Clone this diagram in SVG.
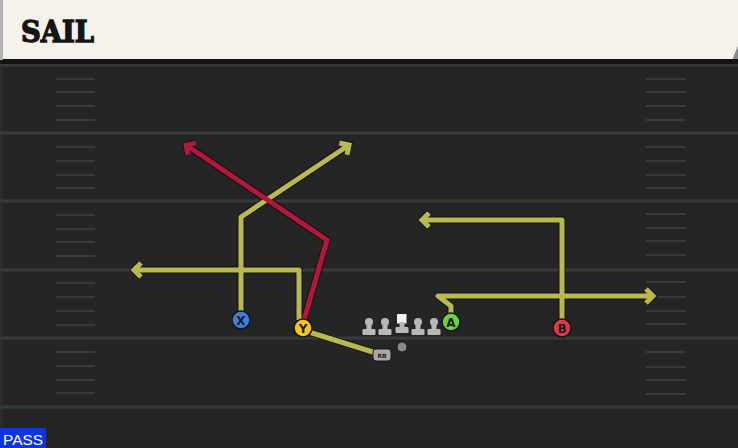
<svg xmlns="http://www.w3.org/2000/svg" width="738" height="448" viewBox="0 0 738 448">
<style>
.yard{stroke:#3a3a3a;stroke-width:3}
.hash{stroke:#3a3a3a;stroke-width:2}
.ol{fill:none;stroke:#121212;stroke-width:7;stroke-linejoin:round}
.ry{fill:none;stroke:#b9b94d;stroke-width:5;stroke-linejoin:round}
.rr{fill:none;stroke:#b3173a;stroke-width:5;stroke-linejoin:round}
.pc{stroke:#151515;stroke-width:1.5}
.pl{font-family:"DejaVu Sans",sans-serif;font-weight:bold;font-size:12px;fill:#1a1a1a;text-anchor:middle}
.lm{fill:#b8b8b8}
</style>
<defs>
<marker id="ay" markerUnits="userSpaceOnUse" orient="auto" markerWidth="30" markerHeight="30" viewBox="-15 -15 30 30" refX="0" refY="0">
<path d="M-7,-7 L0,0 L-7,7" fill="none" stroke="#121212" stroke-width="7"/>
<path d="M-8,0 L0,0" stroke="#b9b94d" stroke-width="5"/>
<path d="M-7,-7 L0,0 L-7,7" fill="none" stroke="#b9b94d" stroke-width="5"/>
</marker>
<marker id="ar" markerUnits="userSpaceOnUse" orient="auto" markerWidth="30" markerHeight="30" viewBox="-15 -15 30 30" refX="0" refY="0">
<path d="M-7,-7 L0,0 L-7,7" fill="none" stroke="#121212" stroke-width="7"/>
<path d="M-8,0 L0,0" stroke="#b3173a" stroke-width="5"/>
<path d="M-7,-7 L0,0 L-7,7" fill="none" stroke="#b3173a" stroke-width="5"/>
</marker>
</defs>
<rect x="0" y="0" width="738" height="448" fill="#252525"/>
<rect x="0" y="60" width="3" height="388" fill="#2c2c2c"/>
<g id="field">
<line class="yard" x1="0" y1="65" x2="738" y2="65"/>
<line class="yard" x1="0" y1="133" x2="738" y2="133"/>
<line class="yard" x1="0" y1="201" x2="738" y2="201"/>
<line class="yard" x1="0" y1="270" x2="738" y2="270"/>
<line class="yard" x1="0" y1="338" x2="738" y2="338"/>
<line class="yard" x1="0" y1="407" x2="738" y2="407"/>
<g id="hashL">
<line class="hash" x1="56" y1="79" x2="95" y2="79"/><line class="hash" x1="56" y1="92" x2="95" y2="92"/><line class="hash" x1="56" y1="106" x2="95" y2="106"/><line class="hash" x1="56" y1="120" x2="95" y2="120"/>
<line class="hash" x1="56" y1="147" x2="95" y2="147"/><line class="hash" x1="56" y1="161" x2="95" y2="161"/><line class="hash" x1="56" y1="175" x2="95" y2="175"/><line class="hash" x1="56" y1="188" x2="95" y2="188"/>
<line class="hash" x1="56" y1="215" x2="95" y2="215"/><line class="hash" x1="56" y1="229" x2="95" y2="229"/><line class="hash" x1="56" y1="242" x2="95" y2="242"/><line class="hash" x1="56" y1="256" x2="95" y2="256"/>
<line class="hash" x1="56" y1="283" x2="95" y2="283"/><line class="hash" x1="56" y1="297" x2="95" y2="297"/><line class="hash" x1="56" y1="311" x2="95" y2="311"/><line class="hash" x1="56" y1="325" x2="95" y2="325"/>
<line class="hash" x1="56" y1="352" x2="95" y2="352"/><line class="hash" x1="56" y1="366" x2="95" y2="366"/><line class="hash" x1="56" y1="380" x2="95" y2="380"/><line class="hash" x1="56" y1="393" x2="95" y2="393"/>
</g>
<g id="hashR">
<line class="hash" x1="646" y1="79" x2="686" y2="79"/><line class="hash" x1="646" y1="92" x2="686" y2="92"/><line class="hash" x1="646" y1="106" x2="686" y2="106"/><line class="hash" x1="646" y1="120" x2="686" y2="120"/>
<line class="hash" x1="646" y1="147" x2="686" y2="147"/><line class="hash" x1="646" y1="161" x2="686" y2="161"/><line class="hash" x1="646" y1="175" x2="686" y2="175"/><line class="hash" x1="646" y1="188" x2="686" y2="188"/>
<line class="hash" x1="646" y1="214" x2="686" y2="214"/><line class="hash" x1="646" y1="228" x2="686" y2="228"/><line class="hash" x1="646" y1="241" x2="686" y2="241"/><line class="hash" x1="646" y1="255" x2="686" y2="255"/>
<line class="hash" x1="646" y1="282" x2="686" y2="282"/><line class="hash" x1="646" y1="297" x2="686" y2="297"/><line class="hash" x1="646" y1="311" x2="686" y2="311"/><line class="hash" x1="646" y1="324" x2="686" y2="324"/>
<line class="hash" x1="646" y1="352" x2="686" y2="352"/><line class="hash" x1="646" y1="367" x2="686" y2="367"/><line class="hash" x1="646" y1="380" x2="686" y2="380"/><line class="hash" x1="646" y1="394" x2="686" y2="394"/>
</g>
</g>
<g id="header">
<rect x="0" y="58" width="738" height="6" fill="#141414"/>
<polygon points="3,0 738,0 738,46 733,59 3,59" fill="#f5f2eb"/>
<polygon points="738,46 738,59 733,59" fill="#8a8a8a"/>
<rect x="0" y="0" width="3" height="60" fill="#b3b3b3"/>
<text x="21" y="42" font-family="'DejaVu Serif','Liberation Serif',serif" font-weight="bold" font-size="29" fill="#151515" stroke="#151515" stroke-width="1.4" textLength="73" lengthAdjust="spacingAndGlyphs">SAIL</text>
</g>
<g id="connectors">
<path class="ol" d="M241,312 L241,217 L349,145"/>
<path class="ol" d="M299,320 L299,270 L134,270"/>
<path class="ol" d="M304,320 L327,240 L186,145"/>
<path class="ol" d="M309,332 L376,353"/>
<path class="ol" d="M451,314 L451,306 L438,296 L653,296"/>
<path class="ol" d="M562,320 L562,220 L422,220"/>
<path class="ry" d="M241,312 L241,217 L349,145" marker-end="url(#ay)"/>
<path class="ry" d="M299,320 L299,270 L134,270" marker-end="url(#ay)"/>
<path class="rr" d="M304,320 L327,240 L186,145" marker-end="url(#ar)"/>
<path class="ry" d="M309,332 L376,353"/>
<path class="ry" d="M451,314 L451,306 L438,296 L653,296" marker-end="url(#ay)"/>
<path class="ry" d="M562,320 L562,220 L422,220" marker-end="url(#ay)"/>
</g>
<g id="line">
<g id="lt"><circle class="lm" cx="369" cy="322" r="4"/><rect class="lm" x="366.5" y="323" width="5" height="8"/><rect class="lm" x="362.5" y="329" width="13" height="6" rx="1"/></g>
<g id="lg"><circle class="lm" cx="385" cy="322" r="4"/><rect class="lm" x="382.5" y="323" width="5" height="8"/><rect class="lm" x="378.5" y="329" width="13" height="6" rx="1"/></g>
<g id="c"><rect x="397" y="314" width="9.5" height="9.5" fill="#f2f2f2"/><rect class="lm" x="399.5" y="322" width="5" height="6"/><rect class="lm" x="395.5" y="327" width="13" height="6" rx="1"/></g>
<g id="rg"><circle class="lm" cx="418" cy="322" r="4"/><rect class="lm" x="415.5" y="323" width="5" height="8"/><rect class="lm" x="411.5" y="329" width="13" height="6" rx="1"/></g>
<g id="rt"><circle class="lm" cx="434" cy="322" r="4"/><rect class="lm" x="431.5" y="323" width="5" height="8"/><rect class="lm" x="427.5" y="329" width="13" height="6" rx="1"/></g>
</g>
<g id="qb"><circle cx="402" cy="347" r="5" fill="#8a8a8a" stroke="#1a1a1a" stroke-width="1"/></g>
<g id="rb"><rect x="373" y="349" width="18" height="12" rx="3" fill="#a8a8a8" stroke="#1a1a1a" stroke-width="1"/><text x="382" y="358" font-family="'DejaVu Sans',sans-serif" font-size="6" font-weight="bold" fill="#222" text-anchor="middle">RB</text></g>
<g id="X"><circle class="pc" cx="241" cy="320" r="9" fill="#3d7fe0"/><text class="pl" x="241" y="324.5">X</text></g>
<g id="Y"><circle class="pc" cx="303" cy="328" r="9" fill="#f4c51c"/><text class="pl" x="303" y="332.5">Y</text></g>
<g id="A"><circle class="pc" cx="451" cy="322" r="9" fill="#6bd23f"/><text class="pl" x="451" y="326.5">A</text></g>
<g id="B"><circle class="pc" cx="562" cy="328" r="9" fill="#e5354b"/><text class="pl" x="562" y="332.5">B</text></g>
<g id="pass"><rect x="0" y="428" width="46" height="20" fill="#1034e0"/><text x="3" y="445" font-family="'Liberation Sans',sans-serif" font-size="15" fill="#ffffff" textLength="40" lengthAdjust="spacingAndGlyphs">PASS</text></g>
</svg>
